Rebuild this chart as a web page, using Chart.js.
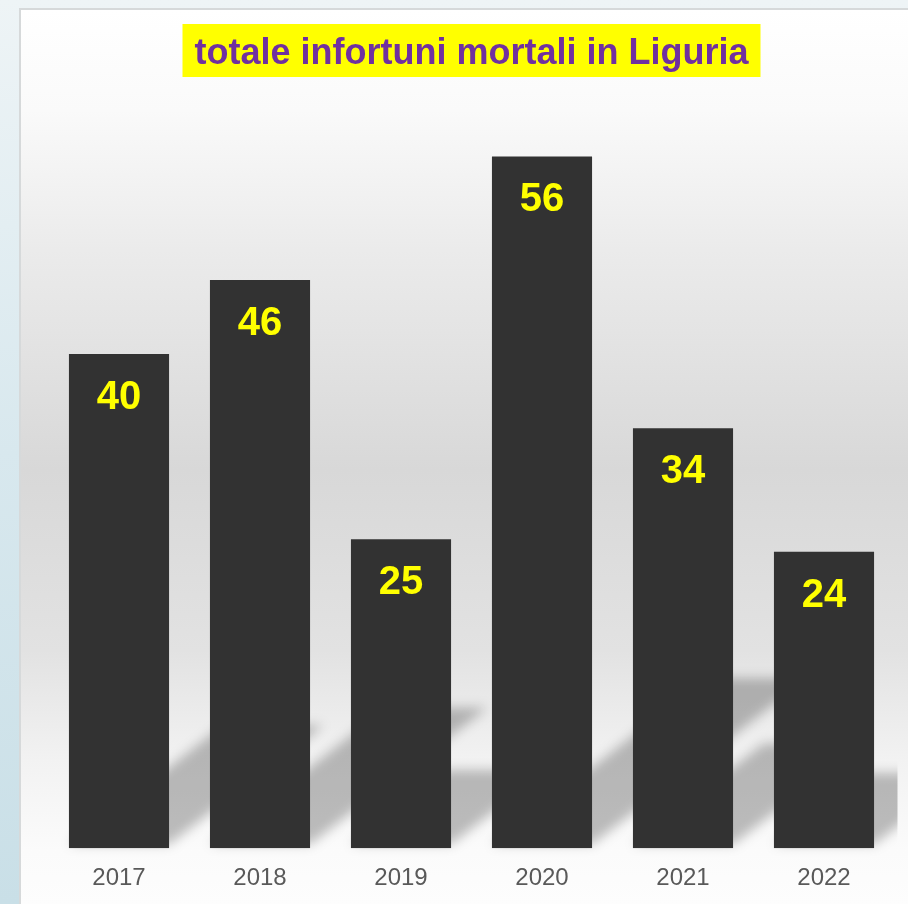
<!DOCTYPE html>
<html>
<head>
<meta charset="utf-8">
<script src="https://cdn.jsdelivr.net/npm/chart.js@4.4.1/dist/chart.umd.min.js"></script>
<style>
  html, body { margin: 0; padding: 0; }
  body {
    width: 908px; height: 904px; overflow: hidden; position: relative;
    background: linear-gradient(180deg, #eef4f6 0%, #d8e8ee 50%, #c9dfe7 100%);
  }
  #panel {
    position: absolute; left: 19px; top: 8px; right: 0; bottom: 0;
    border-top: 2px solid #d6d9da; border-left: 2px solid #d6d9da;
    background: linear-gradient(180deg,
      #ffffff 0px, #fafafa 100px, #ebebeb 240px, #d8d8d8 460px,
      #e2e2e2 640px, #f2f2f2 750px, #fbfbfb 840px, #fdfdfd 896px);
  }
  #wrap { position: absolute; left: 0; top: 0; width: 908px; height: 904px; }
</style>
</head>
<body>
<div id="panel"></div>
<div id="wrap"><canvas id="chart" width="908" height="904"></canvas></div>
<script>
const years = ['2017', '2018', '2019', '2020', '2021', '2022'];
const deaths = [40, 46, 25, 56, 34, 24];
const titleText = 'totale infortuni mortali in Liguria';

// grey perspective shadow cast behind each bar
const barShadows = {
  id: 'barShadows',
  beforeDatasetsDraw(chart) {
    const ctx = chart.ctx;
    const bars = chart.getDatasetMeta(0).data;
    ctx.save();
    ctx.beginPath();
    ctx.rect(0, 0, chart.chartArea.right + 3, chart.height);
    ctx.clip();
    ctx.filter = 'blur(6px)';
    ctx.fillStyle = 'rgba(0,0,0,0.25)';
    bars.forEach(b => {
      const h = b.base - b.y;
      const dy = h * 0.24;
      const dx = dy / 0.77;
      const x0 = b.x - b.width / 2, x1 = b.x + b.width / 2;
      ctx.beginPath();
      ctx.moveTo(x0, b.base - 4);
      ctx.lineTo(x1, b.base - 4);
      ctx.lineTo(x1 + dx, b.base - 4 - dy);
      ctx.lineTo(x0 + dx, b.base - 4 - dy);
      ctx.closePath();
      ctx.fill();
    });
    ctx.restore();
  }
};

// yellow highlight behind the title
const titleBox = {
  id: 'titleBox',
  beforeDraw(chart) {
    const tb = chart.titleBlock;
    if (!tb) return;
    const ctx = chart.ctx;
    ctx.save();
    ctx.font = 'bold 36px "Liberation Sans", Arial, sans-serif';
    const w = ctx.measureText(titleText).width;
    const cx = (tb.left + tb.right) / 2;
    const cy = tb.top + 50.5;
    ctx.fillStyle = '#ffff00';
    ctx.fillRect(cx - w / 2 - 12, cy - 26.5, w + 24, 53);
    ctx.restore();
  }
};

// value labels inside the top of each bar
const valueLabels = {
  id: 'valueLabels',
  afterDatasetsDraw(chart) {
    const ctx = chart.ctx;
    const bars = chart.getDatasetMeta(0).data;
    ctx.save();
    ctx.font = 'bold 40px "Liberation Sans", Arial, sans-serif';
    ctx.fillStyle = '#ffff00';
    ctx.textAlign = 'center';
    ctx.textBaseline = 'middle';
    bars.forEach((b, i) => {
      ctx.fillText(String(deaths[i]), b.x, b.y + 44);
    });
    ctx.restore();
  }
};

const ctx = document.getElementById('chart').getContext('2d');
const chart = new Chart(ctx, {
  type: 'bar',
  data: {
    labels: years,
    datasets: [{
      data: deaths,
      backgroundColor: '#323232',
      borderWidth: 0,
      categoryPercentage: 0.71,
      barPercentage: 1
    }]
  },
  options: {
    responsive: false,
    animation: false,
    layout: { padding: { left: 48.5, right: 13.5, top: 0, bottom: -5 } },
    plugins: {
      legend: { display: false },
      tooltip: { enabled: false },
      title: {
        display: true,
        text: titleText,
        color: '#7030a0',
        font: { family: '"Liberation Sans", Arial, sans-serif', size: 36, weight: 'bold', lineHeight: 1.2 },
        padding: { top: 32, bottom: 31.8 }
      }
    },
    scales: {
      x: {
        grid: { display: false, drawTicks: false },
        border: { display: false },
        ticks: {
          color: '#595959',
          padding: 16,
          font: { family: '"Liberation Sans", Arial, sans-serif', size: 24 }
        }
      },
      y: {
        display: false,
        min: 0,
        max: 60
      }
    }
  },
  plugins: [titleBox, barShadows, valueLabels]
});
</script>
</body>
</html>
